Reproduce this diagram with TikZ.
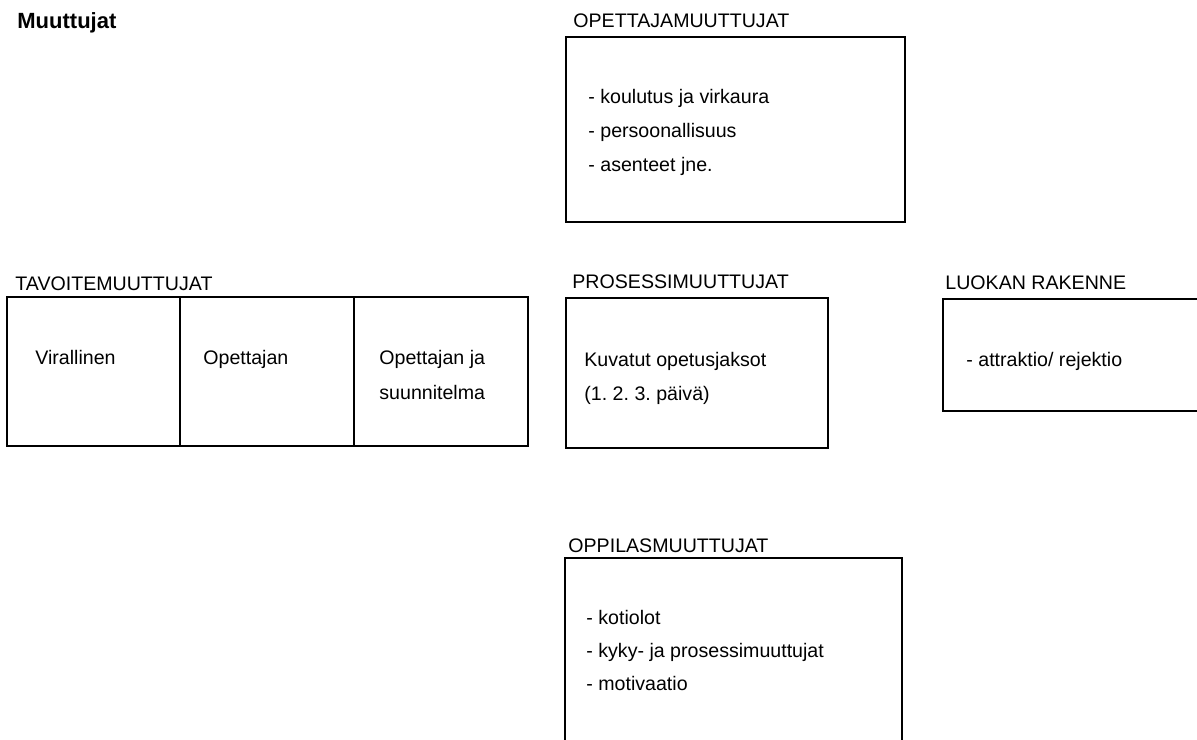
\documentclass[tikz,border=0pt]{standalone}
\usepackage{fontspec}
\setmainfont{Liberation Sans}
\usetikzlibrary{fit}
\frenchspacing
\tikzset{
  boxst/.style={draw, line width=1pt, inner sep=0pt},
  txt/.style={anchor=base west, inner sep=0pt, font=\fontsize{9.8}{12}\selectfont},
  ttl/.style={anchor=base west, inner sep=0pt, font=\fontsize{11}{13}\selectfont\bfseries},
  edge/.style={line width=1pt}
}
\begin{document}
\begin{tikzpicture}[x=0.5pt,y=-0.5pt]
\useasboundingbox (0,0) rectangle (1197,739);
\clip (0,0) rectangle (1197,739);
% title
\node[ttl] (title) at (17,28) {Muuttujat};
% opettajamuuttujat
\node[txt] (opetlbl) at (573,27) {OPETTAJAMUUTTUJAT};
\coordinate (o1) at (566,37);
\coordinate (o2) at (905,222);
\node[boxst, fit=(o1)(o2)] (opetbox) {};
\node[txt] (op1) at (588,103) {- koulutus ja virkaura};
\node[txt] (op2) at (588,137) {- persoonallisuus};
\node[txt] (op3) at (588,171) {- asenteet jne.};
% tavoitemuuttujat
\node[txt] (tavlbl) at (15,290) {TAVOITEMUUTTUJAT};
\coordinate (t1) at (7,297);
\coordinate (t2) at (528,446);
\node[boxst, fit=(t1)(t2)] (tavbox) {};
\coordinate (d1a) at (180,297);
\coordinate (d1b) at (180,446);
\coordinate (d2a) at (354,297);
\coordinate (d2b) at (354,446);
\draw[edge] (d1a) -- (d1b);
\draw[edge] (d2a) -- (d2b);
\node[txt] (tv1) at (35,364) {Virallinen};
\node[txt] (tv2) at (203,364) {Opettajan};
\node[txt] (tv3) at (379,364) {Opettajan ja};
\node[txt] (tv4) at (379,399) {suunnitelma};
% prosessimuuttujat
\node[txt] (prolbl) at (572,288) {PROSESSIMUUTTUJAT};
\coordinate (p1) at (566,298);
\coordinate (p2) at (828,448);
\node[boxst, fit=(p1)(p2)] (probox) {};
\node[txt] (pr1) at (584,366) {Kuvatut opetusjaksot};
\node[txt] (pr2) at (584,400) {(1. 2. 3. p\"aiv\"a)};
% luokan rakenne
\node[txt] (luolbl) at (945,289) {LUOKAN RAKENNE};
\coordinate (l1) at (943,299);
\coordinate (l2) at (1210,411);
\node[boxst, fit=(l1)(l2)] (luobox) {};
\node[txt] (lu1) at (966,366) {- attraktio/ rejektio};
% oppilasmuuttujat
\node[txt] (opplbl) at (568,552) {OPPILASMUUTTUJAT};
\coordinate (q1) at (565,558);
\coordinate (q2) at (902,760);
\node[boxst, fit=(q1)(q2)] (oppbox) {};
\node[txt] (pp1) at (586,624) {- kotiolot};
\node[txt] (pp2) at (586,657) {- kyky- ja prosessimuuttujat};
\node[txt] (pp3) at (586,690) {- motivaatio};
\end{tikzpicture}
\end{document}
